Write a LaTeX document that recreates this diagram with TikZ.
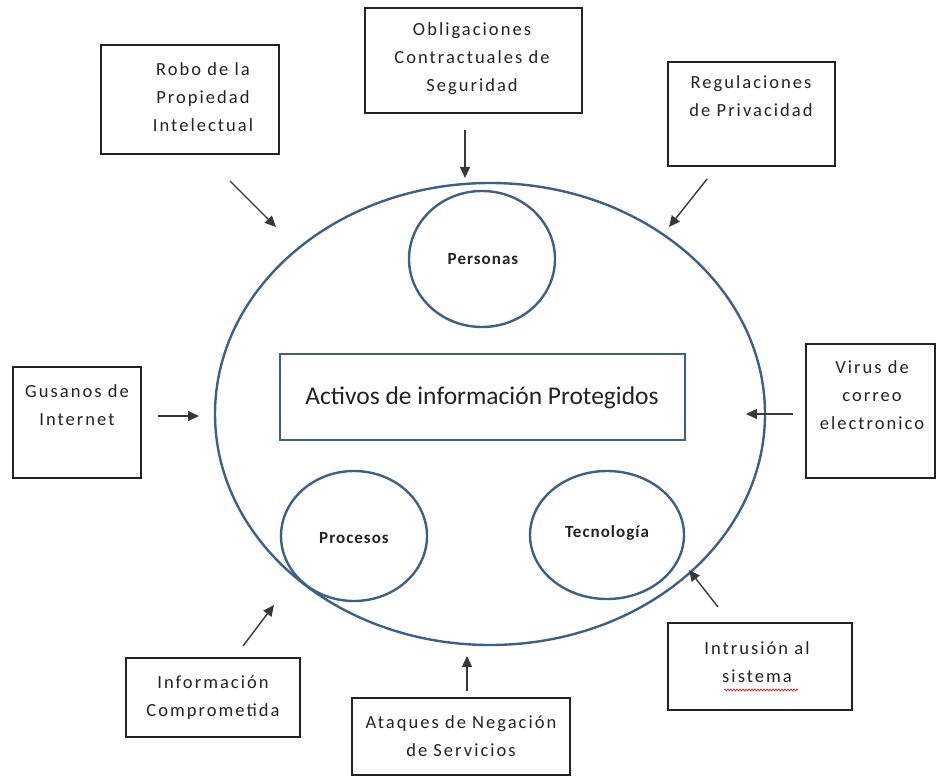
\documentclass[tikz,border=0pt]{standalone}
\usepackage{fontspec}
\setmainfont{Carlito}
\newfontfamily\spacedfont{Carlito}[LetterSpace=11]
\newfontfamily\ringfont{Carlito}[LetterSpace=6]
\usetikzlibrary{arrows.meta,decorations.pathmorphing,shapes.geometric}
\definecolor{ringblue}{RGB}{58,96,142}
\definecolor{inkgray}{RGB}{34,34,34}
\tikzset{
  ring/.style={draw=ringblue, line width=2.4pt, ellipse, inner sep=0pt},
  threatbox/.style={draw=inkgray, line width=1.1pt, rectangle, inner sep=0pt},
  boxtext/.style={align=center, text=inkgray, font=\spacedfont\fontsize{18.5}{28}\selectfont, inner sep=0pt},
  ringtext/.style={text=inkgray, font=\ringfont\bfseries\fontsize{17}{19}\selectfont, inner sep=0pt},
  hit/.style={-{Triangle[length=11pt,width=10pt]}, draw=inkgray!90, line width=1.4pt}
}
\begin{document}
\begin{tikzpicture}[x=1pt,y=-1pt]
\useasboundingbox (0,0) rectangle (936,778);

% outer ring and the three inner rings
\node[ring, minimum width=550pt, minimum height=462pt] (assets) at (490,414) {};
\node[ring, minimum width=146pt, minimum height=136pt] (people) at (482,259) {};
\node[ringtext] (people-t) at (483,259) {Personas};
\node[ring, minimum width=146pt, minimum height=130pt] (process) at (354,536) {};
\node[ringtext] (process-t) at (354,538) {Procesos};
\node[ring, minimum width=154pt, minimum height=128pt] (tech) at (607,535) {};
\node[ringtext] (tech-t) at (607,533) {Tecnología};

% central box
\node[draw=ringblue, line width=2.2pt, minimum width=405pt, minimum height=86pt, inner sep=0pt] (core) at (482.5,397) {};
\node[text=inkgray, font=\fontsize{25.5}{30}\selectfont, inner sep=0pt] (core-t) at (482,398) {Activos de información Protegidos};

% surrounding threats
\node[threatbox, minimum width=178pt, minimum height=109pt] (theft) at (190,99.5) {};
\node[boxtext] (theft-t) at (203,97.5) {Robo de la\\Propiedad\\Intelectual};

\node[threatbox, minimum width=217pt, minimum height=105pt] (duty) at (473.5,60.5) {};
\node[boxtext] (duty-t) at (472,58.5) {Obligaciones\\Contractuales de\\Seguridad};

\node[threatbox, minimum width=167pt, minimum height=104pt] (privacy) at (751.5,114) {};
\node[boxtext] (privacy-t) at (751,96) {Regulaciones\\de Privacidad};

\node[threatbox, minimum width=128pt, minimum height=111pt] (worms) at (77,422.5) {};
\node[boxtext] (worms-t) at (77,405) {Gusanos de\\Internet};

\node[threatbox, minimum width=129pt, minimum height=134pt] (virus) at (870.5,411) {};
\node[boxtext] (virus-t) at (872,395) {Virus de\\correo\\electronico};

\node[threatbox, minimum width=174pt, minimum height=79pt] (leak) at (213,697.5) {};
\node[boxtext] (leak-t) at (213,698) {Información\\Comprometida};

\node[threatbox, minimum width=218pt, minimum height=77pt] (dos) at (461,736.5) {};
\node[boxtext] (dos-t) at (461,736) {Ataques de Negación\\de Servicios};

\node[threatbox, minimum width=184pt, minimum height=87pt] (intrude) at (760,666.5) {};
\node[boxtext] (intrude-t) at (757,662) {Intrusión al\\sistema};
\draw[red, line width=0.6pt, decoration={snake, amplitude=1pt, segment length=3pt}, decorate]
  (724,690) -- (798,690);

% arrow ends
\coordinate (theft-a) at (230,181);   \coordinate (theft-b) at (276,227);
\coordinate (duty-a) at (465,130);    \coordinate (duty-b) at (465,178);
\coordinate (privacy-a) at (707,179); \coordinate (privacy-b) at (669,227);
\coordinate (worms-a) at (158,416);   \coordinate (worms-b) at (199,416);
\coordinate (virus-a) at (793,414);   \coordinate (virus-b) at (746,414);
\coordinate (leak-a) at (243,646);    \coordinate (leak-b) at (274,605);
\coordinate (dos-a) at (467,691);     \coordinate (dos-b) at (467,656);
\coordinate (intrude-a) at (718,607); \coordinate (intrude-b) at (689,570);

\foreach \t in {theft,duty,privacy,worms,virus,leak,dos,intrude}
  \draw[hit] (\t-a) -- (\t-b);
\end{tikzpicture}
\end{document}
